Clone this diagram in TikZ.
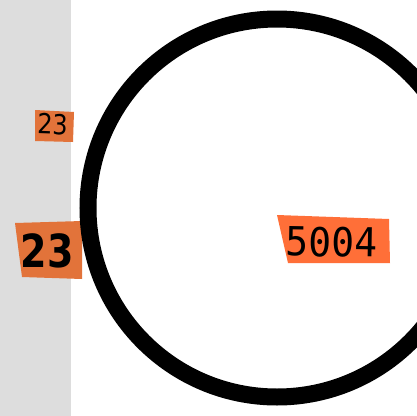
\documentclass[tikz,border=0pt]{standalone}
\usepackage{fontspec}
\newfontfamily\dvsans{DejaVu Sans}
\newfontfamily\dvmono{DejaVu Sans Mono}
\definecolor{stripgray}{HTML}{DDDDDD}
\definecolor{tagA}{HTML}{E2733A}
\definecolor{tagB}{HTML}{FF6F38}
\tikzset{
  tagtext/.style={inner sep=0pt, text=black},
}
\begin{document}
\begin{tikzpicture}[x=1pt,y=-1pt]
\useasboundingbox (0,0) rectangle (416,416);
\fill[white] (0,0) rectangle (416,416);
\fill[stripgray] (0,0) rectangle (71,416);
% tag backgrounds
\fill[tagA] (35,110) -- (74,112) -- (73,142) -- (35,141) -- cycle;
\fill[tagA] (15,223) -- (82,221) -- (82,279) -- (22,277) -- cycle;
\fill[tagB] (277,215) -- (389,219) -- (390,263) -- (288,263) -- cycle;
\coordinate (c) at (277,208);
\draw[line width=17pt] (c) circle[radius=189pt];
\node[tagtext, rotate=-2, font=\dvsans\fontsize{24}{24}\selectfont] (small) at (53,124) {\scalebox{1}[1.15]{23}};
\node[tagtext, font=\dvsans\bfseries\fontsize{38}{38}\selectfont] (big) at (47,251) {\scalebox{1}[1.2]{23}};
\node[tagtext, rotate=-1, font=\dvmono\fontsize{38}{38}\selectfont] (num) at (332,242) {\scalebox{1}[1.05]{5004}};
\end{tikzpicture}
\end{document}
